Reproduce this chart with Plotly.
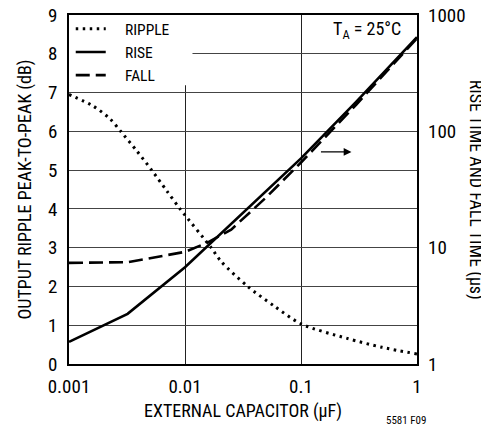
import plotly.graph_objects as go

# %%---------------------------- DATA ----------------------------
ripple_cap = [0.001, 0.00162, 0.00226, 0.00279, 0.00383, 0.00516, 0.00695, 0.00906,
              0.0168, 0.0204, 0.0347, 0.059, 0.101, 0.25, 0.5, 1.0]
ripple_db = [6.95, 6.65, 6.32, 6.0, 5.5, 5.0, 4.47, 4.0,
             3.0, 2.65, 2.0, 1.49, 1.03, 0.66, 0.43, 0.26]

rise_cap = [0.001, 0.0032, 0.01, 0.0544, 0.1, 0.3, 1.0]
rise_us = [1.55, 2.7, 6.8, 33, 58.5, 180, 645]

fall_cap = [0.001, 0.0032, 0.01, 0.0155, 0.025, 0.05, 0.1, 0.3, 1.0]
fall_us = [7.4, 7.5, 9.2, 11.0, 14.3, 27, 54, 170, 630]

x_ticks = [0.001, 0.01, 0.1, 1]
x_labels = ["0.001", "0.01", "0.1", "1"]
y2_ticks = [1, 10, 100, 1000]

FONT = "Liberation Sans Narrow, Arial Narrow, Roboto Condensed, sans-serif"
PAD = "\u00a0\u00a0\u00a0\u00a0"  # push legend text right, as in the original

# %%---------------------------- FIGURE --------------------------
fig = go.Figure()

fig.add_trace(go.Scatter(
    x=ripple_cap, y=ripple_db, name=PAD + "RIPPLE", mode="lines",
    line=dict(color="black", width=3, dash="2.5px,4.5px", shape="spline", smoothing=0.8),
    yaxis="y"))
fig.add_trace(go.Scatter(
    x=rise_cap, y=rise_us, name=PAD + "RISE", mode="lines",
    line=dict(color="black", width=2.6), yaxis="y2"))
fig.add_trace(go.Scatter(
    x=fall_cap, y=fall_us, name=PAD + "FALL", mode="lines",
    line=dict(color="black", width=2.6, dash="14px,6px"), yaxis="y2"))

# white patch under the legend hides the grid there
fig.add_shape(type="rect", xref="x", yref="y", x0=0.001, x1=0.0116, y0=7.19, y1=9,
              fillcolor="white", line=dict(width=0), layer="between")

# the page body adds 8px at top/left, so the figure is 8px smaller and margins shifted
fig.update_layout(
    template="none",
    width=481, height=419,
    margin=dict(l=61, r=72, t=7, b=63, autoexpand=False),
    paper_bgcolor="white", plot_bgcolor="white",
    font=dict(family=FONT, size=18, color="black"),
    showlegend=True,
    legend=dict(x=0.005, y=1.008, xanchor="left", yanchor="top",
                bgcolor="rgba(0,0,0,0)", font=dict(size=15.5), tracegroupgap=0,
                itemwidth=30),
    xaxis=dict(type="log", range=[-3, 0], tickvals=x_ticks, ticktext=x_labels,
               automargin=False, ticklabeloverflow="allow",
               showgrid=True, gridcolor="#222", gridwidth=1,
               showline=True, linecolor="black", linewidth=1.5, mirror=True,
               ticks="", ticklabelstandoff=4, tickfont=dict(size=19),
               zeroline=False,
               title=dict(text="EXTERNAL CAPACITOR (µF)", font=dict(size=18), standoff=8)),
    yaxis=dict(range=[0, 9], dtick=1, showgrid=True, gridcolor="#444", gridwidth=1,
               automargin=False, ticklabeloverflow="allow",
               showline=True, linecolor="black", linewidth=1.5, mirror=True,
               ticks="", ticklabelstandoff=6, tickfont=dict(size=19), zeroline=False,
               title=dict(text="OUTPUT RIPPLE PEAK-TO-PEAK (dB)", font=dict(size=18), standoff=12)),
    yaxis2=dict(type="log", range=[0, 3], overlaying="y", side="right",
                automargin=False, ticklabeloverflow="allow",
                tickvals=y2_ticks, ticktext=[str(v) for v in y2_ticks],
                showgrid=False, showline=False, ticks="", ticklabelstandoff=10,
                tickfont=dict(size=19), zeroline=False),
)

fig.add_annotation(text="RISE TIME AND FALL TIME (µs)", xref="paper", yref="paper",
                   x=1.172, y=0.5, xanchor="center", yanchor="middle", textangle=90,
                   showarrow=False, font=dict(size=18))
fig.add_annotation(text="T<sub>A</sub> = 25°C", xref="paper", yref="paper",
                   x=0.96, y=0.958, xanchor="right", yanchor="middle",
                   showarrow=False, font=dict(size=18))
fig.add_annotation(text="5581 F09", xref="paper", yref="paper",
                   x=0.968, y=-0.163, xanchor="center", yanchor="middle",
                   showarrow=False, font=dict(size=11))
# right-pointing arrow marking curves on the right axis
fig.add_annotation(x=-0.565, y=5.47, xref="x", yref="y", ax=-32, ay=0,
                   text="", showarrow=True, arrowhead=2, arrowsize=1.2,
                   arrowwidth=1.3, arrowcolor="black")

fig.write_html("out.html")
